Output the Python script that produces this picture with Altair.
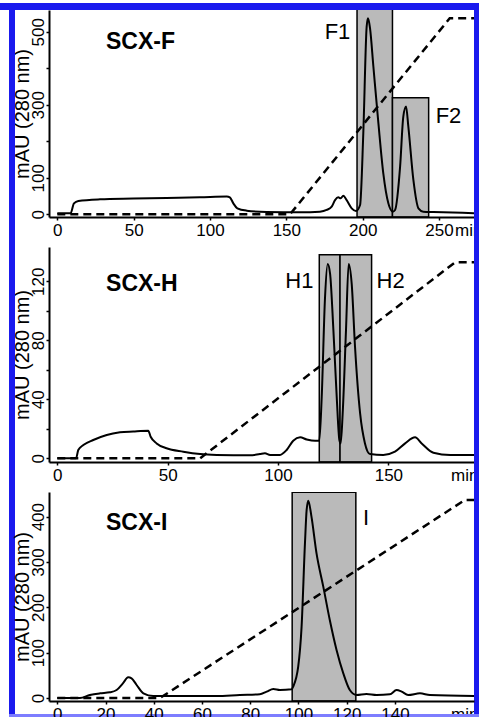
import altair as alt
import pandas as pd

# ---------------- data: SCX-F ----------------
f_time = [0, 8.7, 10.9, 13.8, 28, 49.8, 71.6, 93.4, 111, 113, 115.3, 117.9, 124, 137, 159, 172,
          176.4, 179.7, 181.9, 184, 185.6, 187.3, 189.5, 192.8, 195.6, 198.3, 200.4, 202.6, 203.5,
          204.8, 207, 210.3, 213.5, 216.8, 219.7, 221.2, 224.5, 226.6, 228.4, 229.9, 233.2, 236.5,
          239.7, 246.3, 275]
f_mau = [2.7, 2.7, 30, 36.5, 41, 43, 44.7, 46.6, 49, 46.6, 30, 16.4, 10, 6.4, 5.5, 7.3,
         11.9, 21, 39, 46.6, 43.8, 51, 39, 16.4, 9.1, 25.6, 222, 514, 537,
         510, 405, 249, 112, 30, 7.3, 11.9, 130.6, 267.6, 295, 240, 94, 16.4,
         7.3, 6.4, 2.7]
f_grad_time = [0, 152.4, 257, 275]
f_grad_val = [0, 0, 537, 537]
f_frac_names = ["F1", "F2"]
f_frac_start = [196.3, 219.5]
f_frac_end = [219.5, 243.2]
f_frac_top = [570, 319.6]
f_frac_label_x = [183.5, 256.2]
f_frac_label_y = [480.3, 250.1]

# ---------------- data: SCX-H ----------------
h_time = [0, 8.5, 9.5, 11.8, 16.3, 22.4, 28.4, 34.4, 41.2, 42.3, 45, 49.5, 57.1, 64.7, 72.2, 87.3,
          91.8, 94.1, 96.4, 100.9, 103.9, 106.9, 110, 113, 116.8, 118.7, 119.8, 121.3, 122.5, 123.6,
          125.1, 126.6, 127.8, 128.4, 129.3, 130.8, 132, 133.4, 134.9, 137.2, 139.4, 141.7, 147.7,
          153, 157.6, 162.1, 165.1, 170.4, 178, 190.5]
h_mau = [0, 0, 5.6, 9, 12.4, 15.8, 17.6, 18.2, 18.7, 14.6, 10.1, 6.8, 4.5, 2.9, 2.3, 2,
         2.9, 3.4, 2.3, 2.3, 5.6, 11.9, 14.2, 12.8, 11.9, 11.9, 41.6, 109, 131.7, 125,
         86.7, 41.6, 12.4, 10.1, 30.4, 86.7, 131.7, 118, 75.4, 30.4, 10.1, 2.9, 2.3,
         4.5, 10.1, 14.2, 10.1, 3.8, 2.3, 2.3]
h_grad_time = [0, 64.7, 180.2, 190.5]
h_grad_val = [0, 0, 132.8, 132.8]
h_frac_names = ["H1", "H2"]
h_frac_start = [118.7, 128.1]
h_frac_end = [128.1, 142.4]
h_frac_top = [138, 138]
h_frac_label_x = [109.7, 151]
h_frac_label_y = [115.5, 115.5]

# ---------------- data: SCX-I ----------------
i_time = [0, 9.4, 13.5, 17.7, 21.8, 24.6, 27.2, 29.4, 30.8, 32.9, 35.7, 39.8, 52.2, 66, 75.7, 84,
          86.8, 89.6, 92.3, 97.2, 97.8, 99.9, 101.3, 102.7, 103.4, 104.1, 105.4, 107.5, 110.3, 113,
          115.8, 118.6, 121.3, 124.1, 128.2, 132.4, 137.9, 140.7, 142.8, 145.5, 150.4, 154.5, 174.5]
i_mau = [0, 0, 6.6, 10.3, 12.5, 17.6, 32.4, 45.6, 43.4, 28.7, 10.3, 4.4, 4.4, 4.4, 6.6, 8.1,
         14, 19.9, 17.6, 19.1, 25, 69, 157, 341, 415, 435, 400, 319, 245.6, 172,
         106, 54.4, 17.6, 6.6, 8.8, 6.6, 8.1, 17.6, 14, 6.6, 10.3, 6.6, 4.4]
i_grad_time = [0, 42.6, 169, 174.5]
i_grad_val = [0, 0, 436.8, 436.8]
i_frac_names = ["I"]
i_frac_start = [97.4]
i_frac_end = [123.8]
i_frac_top = [453.7]
i_frac_label_x = [128]
i_frac_label_y = [381.6]

panel_names = ["SCX-F", "SCX-H", "SCX-I"]
panel_name_x = [31.9, 22.1, 20.2]
panel_name_y = [452.9, 113.4, 370.6]
unit_text = "min"

LABEL_FONT = "Liberation Sans Narrow, Arial Narrow, Liberation Sans, Arial"
TEXT_FONT = "Liberation Sans, Arial"
BLUE = "#1a1aee"


def band(x1, x2, y1, y2, color):
    return alt.Chart(alt.Data(values=[{"b": 1}])).mark_rect(color=color, clip=False).encode(
        x=alt.value(x1), x2=alt.value(x2), y=alt.value(y1), y2=alt.value(y2))


def make_panel(time, mau, g_t, g_v, fr_names, fr_s, fr_e, fr_top, fr_lx, fr_ly,
               name, name_x, name_y, xdom, ydom, w, h, xticks, yticks, ylab_expr,
               unit_px, pre_layers=(), post_layers=()):
    xs = alt.Scale(domain=xdom, nice=False, zero=False)
    ys = alt.Scale(domain=ydom, nice=False, zero=False)
    xaxis = alt.Axis(values=xticks, title=None, labelPadding=2, labelAngle=0,
                     labelFlush=False, labelOverlap=False, zindex=1)
    yaxis = alt.Axis(values=yticks, title="mAU (280 nm)", labelExpr=ylab_expr,
                     labelAngle=270, labelAlign="center", labelBaseline="alphabetic",
                     labelPadding=3, labelOverlap=False, labelFlush=False,
                     titleAngle=270, titleAlign="center", titleBaseline="alphabetic",
                     titleX=-21, titleY=h / 2, zindex=1)

    def X(f):
        return alt.X(f"{f}:Q", scale=xs, axis=xaxis)

    def Y(f):
        return alt.Y(f"{f}:Q", scale=ys, axis=yaxis)

    trace_df = pd.DataFrame({"t": time, "v": mau})
    grad_df = pd.DataFrame({"t": g_t, "v": g_v})
    frac_df = pd.DataFrame({"s": fr_s, "e": fr_e, "top": fr_top,
                            "bottom": [ydom[0]] * len(fr_s)})
    flab_df = pd.DataFrame({"lab": fr_names, "x": fr_lx, "y": fr_ly})
    name_df = pd.DataFrame({"lab": [name], "x": [name_x], "y": [name_y]})

    rects = alt.Chart(frac_df).mark_rect(fill="#bababa", stroke="black", strokeWidth=1.5,
                                         clip=True).encode(
        x=X("s"), x2="e", y=Y("top"), y2="bottom")
    grad = alt.Chart(grad_df).mark_line(color="black", strokeWidth=2.5, strokeDash=[8, 5],
                                        clip=True).encode(x=X("t"), y=Y("v"), order="t:Q")
    trace = alt.Chart(trace_df).mark_line(color="black", strokeWidth=2, interpolate="monotone",
                                          clip=True).encode(x=X("t"), y=Y("v"), order="t:Q")
    flab = alt.Chart(flab_df).mark_text(font=TEXT_FONT, fontSize=22, color="black",
                                        align="center", baseline="alphabetic").encode(
        x=X("x"), y=Y("y"), text="lab:N")
    nlab = alt.Chart(name_df).mark_text(font=TEXT_FONT, fontSize=23, fontWeight="bold",
                                        color="black", align="left",
                                        baseline="alphabetic").encode(
        x=X("x"), y=Y("y"), text="lab:N")
    unit = alt.Chart(alt.Data(values=[{"u": unit_text}])).mark_text(
        font=LABEL_FONT, fontSize=17, color="black", align="left", baseline="alphabetic").encode(
        x=alt.value(unit_px), y=alt.value(h + 19), text="u:N")
    layers = list(pre_layers) + [rects, grad, trace, flab, nlab, unit] + list(post_layers)
    return alt.layer(*layers).properties(width=w, height=h)


W = 425
# white sheet that fixes the page extent (pixels relative to first panel origin at 49, 10);
# it reaches 21 px beyond the right edge and 18 px beyond the bottom, which the negative
# padding trims off so the page is exactly 479 x 717
sheet = [band(-49, 451, -10, 725, "white")]

p1 = make_panel(f_time, f_mau, f_grad_time, f_grad_val, f_frac_names, f_frac_start, f_frac_end,
                f_frac_top, f_frac_label_x, f_frac_label_y,
                panel_names[0], panel_name_x[0], panel_name_y[0],
                [-5.44, 272.9], [-7.4, 559.7], W, 207,
                [0, 50, 100, 150, 200, 250], [0, 100, 200, 300, 400, 500],
                "datum.value == 200 || datum.value == 400 ? '' : datum.label",
                unit_px=406, pre_layers=sheet)

p2 = make_panel(h_time, h_mau, h_grad_time, h_grad_val, h_frac_names, h_frac_start, h_frac_end,
                h_frac_top, h_frac_label_x, h_frac_label_y,
                panel_names[1], panel_name_x[1], panel_name_y[1],
                [-3.76, 188.8], [-2.5, 143.2], W, 215,
                [0, 50, 100, 150], [0, 20, 40, 60, 80, 100, 120],
                "datum.value % 40 == 0 ? datum.label : ''",
                unit_px=402)

# decorative blue frame (pixel positions relative to the third panel's origin at 49, 492)
frame = [
    band(-49, 430, -489, -482, BLUE),     # top
    band(-40, -34, -489, 225, BLUE),      # left
    band(425, 430, -489, 225, BLUE),      # right
    band(-40, 430, 222, 225, "#7d7dff"),  # bottom
]

p3 = make_panel(i_time, i_mau, i_grad_time, i_grad_val, i_frac_names, i_frac_start, i_frac_end,
                i_frac_top, i_frac_label_x, i_frac_label_y,
                panel_names[2], panel_name_x[2], panel_name_y[2],
                [-3.44, 172.8], [-6.6, 454.4], W, 209,
                [0, 20, 40, 60, 80, 100, 120, 140], [0, 100, 200, 300, 400],
                "datum.label", unit_px=402, post_layers=frame)

chart = alt.vconcat(p1, p2, p3, spacing=30, bounds="flush").properties(
    padding={"left": 0, "top": 0, "right": -21, "bottom": -18},
    background="white",
).configure_view(stroke=None).configure_axis(
    domainColor="black", domainWidth=2, tickColor="black", tickWidth=1.5, tickSize=3,
    labelColor="black", labelFont=LABEL_FONT, labelFontSize=17, grid=False,
    titleColor="black", titleFont=TEXT_FONT, titleFontSize=20, titleFontWeight="normal",
)

chart.save("out.html", embed_options={"renderer": "svg", "actions": False})
